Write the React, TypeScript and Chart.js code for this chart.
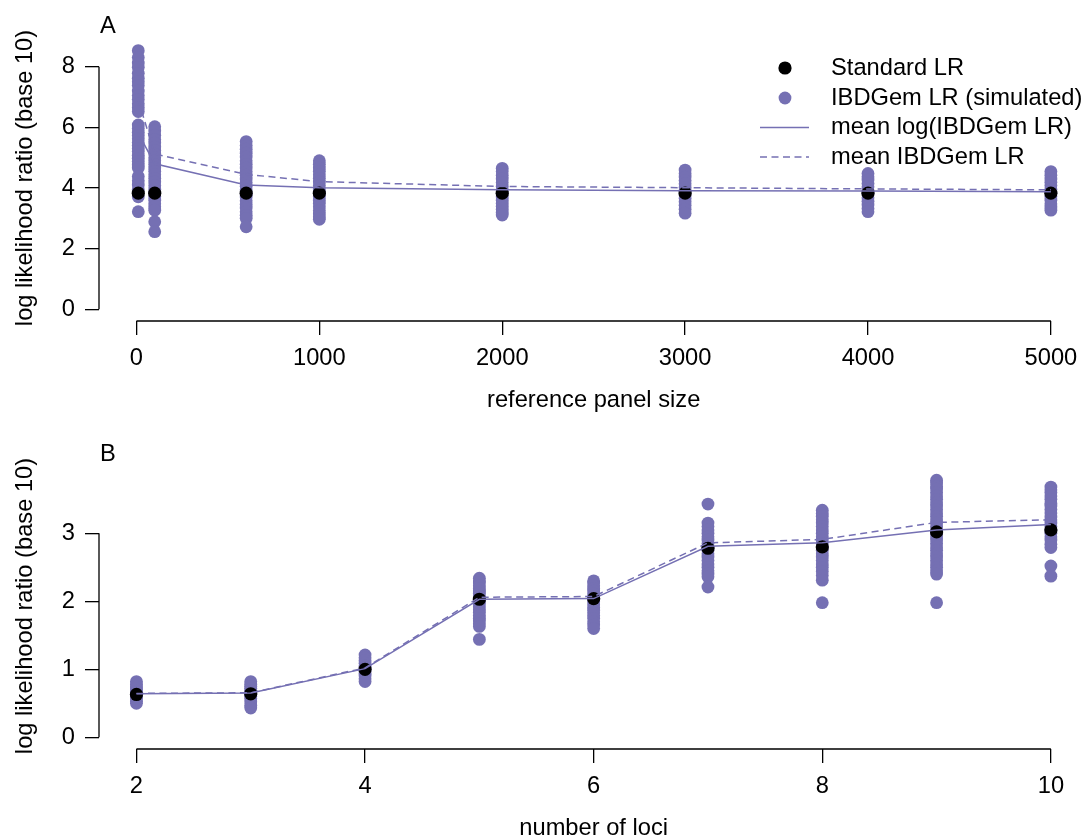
import React, { useEffect, useRef } from "react";
import { Chart, registerables } from "chart.js";

Chart.register(...registerables);

// ---------- Panel A data ----------
const panelSizes = [10, 100, 600, 1000, 2000, 3000, 4000, 5000];
const standardLR_A = [3.83, 3.83, 3.83, 3.83, 3.83, 3.83, 3.83, 3.83];
const meanLogLR_A = [5.8, 4.8, 4.1, 4.01, 3.94, 3.91, 3.9, 3.88];
const meanLR_A = [6.9, 5.12, 4.45, 4.21, 4.05, 4.01, 3.97, 3.94];

const simA_10 = [8.53, 8.3, 8.12, 7.98, 7.78, 7.62, 7.5, 7.38, 7.2, 7.05, 6.92, 6.78, 6.65, 6.52, 6.08, 5.96, 5.84, 5.73, 5.62, 5.5, 5.4, 5.3, 5.2, 5.08, 4.98, 4.87, 4.76, 4.66, 4.38, 4.24, 4.1, 3.95, 3.71, 3.22];
const simA_100 = [6.02, 5.88, 5.74, 5.6, 5.48, 5.35, 5.24, 5.12, 5.0, 4.9, 4.78, 4.66, 4.55, 4.44, 4.32, 4.2, 4.08, 3.96, 3.84, 3.72, 3.6, 3.48, 3.38, 3.27, 2.89, 2.56];
const simA_600 = [5.53, 5.4, 5.28, 5.15, 5.02, 4.9, 4.78, 4.66, 4.54, 4.42, 4.3, 4.18, 4.06, 3.94, 3.82, 3.7, 3.58, 3.46, 3.34, 3.22, 3.1, 3.0, 2.72];
const simA_1000 = [4.9, 4.78, 4.66, 4.55, 4.44, 4.32, 4.2, 4.08, 3.96, 3.84, 3.72, 3.6, 3.5, 3.38, 3.26, 3.14, 3.05, 2.97];
const simA_2000 = [4.65, 4.54, 4.42, 4.3, 4.18, 4.06, 3.94, 3.82, 3.7, 3.6, 3.5, 3.4, 3.3, 3.2, 3.11];
const simA_3000 = [4.59, 4.48, 4.36, 4.25, 4.14, 4.02, 3.9, 3.78, 3.66, 3.55, 3.43, 3.3, 3.17];
const simA_4000 = [4.48, 4.37, 4.26, 4.15, 4.04, 3.92, 3.8, 3.68, 3.56, 3.44, 3.32, 3.22];
const simA_5000 = [4.54, 4.42, 4.3, 4.19, 4.08, 3.96, 3.84, 3.72, 3.6, 3.48, 3.37, 3.27];
const simA = [simA_10, simA_100, simA_600, simA_1000, simA_2000, simA_3000, simA_4000, simA_5000];

const ticksA_x = [0, 1000, 2000, 3000, 4000, 5000];
const ticksA_y = [0, 2, 4, 6, 8];

// ---------- Panel B data ----------
const lociCounts = [2, 3, 4, 5, 6, 7, 8, 9, 10];
const standardLR_B = [0.63, 0.64, 1.0, 2.03, 2.04, 2.78, 2.8, 3.02, 3.05];
const meanLogLR_B = [0.64, 0.65, 1.01, 2.03, 2.04, 2.81, 2.86, 3.05, 3.13];
const meanLR_B = [0.645, 0.655, 1.02, 2.06, 2.07, 2.86, 2.91, 3.16, 3.2];

const simB_2 = [0.82, 0.78, 0.74, 0.71, 0.68, 0.66, 0.63, 0.6, 0.57, 0.53, 0.5];
const simB_3 = [0.82, 0.78, 0.75, 0.72, 0.69, 0.66, 0.63, 0.6, 0.57, 0.52, 0.47, 0.43];
const simB_4 = [1.21, 1.17, 1.13, 1.09, 1.05, 1.02, 0.98, 0.94, 0.9, 0.86, 0.82];
const simB_5 = [2.34, 2.3, 2.27, 2.23, 2.19, 2.15, 2.12, 2.08, 2.04, 2.0, 1.96, 1.92, 1.88, 1.84, 1.79, 1.75, 1.71, 1.67, 1.63, 1.44];
const simB_6 = [2.3, 2.27, 2.23, 2.19, 2.15, 2.11, 2.07, 2.03, 1.99, 1.95, 1.91, 1.87, 1.83, 1.79, 1.75, 1.7, 1.65, 1.6];
const simB_7 = [3.43, 3.15, 3.1, 3.05, 3.0, 2.95, 2.9, 2.85, 2.8, 2.75, 2.7, 2.65, 2.6, 2.55, 2.5, 2.45, 2.4, 2.36, 2.21];
const simB_8 = [3.34, 3.29, 3.25, 3.2, 3.15, 3.1, 3.05, 3.0, 2.95, 2.9, 2.85, 2.8, 2.75, 2.7, 2.65, 2.6, 2.55, 2.5, 2.44, 2.38, 2.31, 1.98];
const simB_9 = [3.78, 3.74, 3.69, 3.65, 3.6, 3.55, 3.5, 3.45, 3.4, 3.35, 3.3, 3.25, 3.2, 3.15, 3.1, 3.05, 3.0, 2.95, 2.9, 2.85, 2.8, 2.75, 2.7, 2.65, 2.6, 2.55, 2.5, 2.45, 2.4, 1.98];
const simB_10 = [3.68, 3.64, 3.6, 3.55, 3.5, 3.44, 3.4, 3.35, 3.3, 3.24, 3.2, 3.15, 3.1, 3.05, 3.0, 2.95, 2.9, 2.84, 2.79, 2.52, 2.37];
const simB = [simB_2, simB_3, simB_4, simB_5, simB_6, simB_7, simB_8, simB_9, simB_10];

const ticksB_x = [2, 4, 6, 8, 10];
const ticksB_y = [0, 1, 2, 3];

const legendLabels = ["Standard LR", "IBDGem LR (simulated)", "mean log(IBDGem LR)", "mean IBDGem LR"];

// ---------- styling / geometry ----------
const PURPLE = "#7570B3";
const FONT = "'Liberation Sans', Arial, Helvetica, sans-serif";
const FSIZE = 23.7;
const W = 1085;
const H = 428;
const AREA_LEFT = 99;
const AREA_TOP = 10;
const AREA_BOTTOM = 321;
const X_FIRST_PX = 136.7;
const X_LAST_PX = 1057.3;
const Y_ZERO_PX = 309.3;
const DASH = [7, 4.5];

type PanelSpec = {
  xs: number[];
  sims: number[][];
  standard: number[];
  meanLog: number[];
  meanLR: number[];
  xTicks: number[];
  yTicks: number[];
  yTopPx: number;
  xTitle: string;
  letter: string;
  legend: boolean;
};

function makeConfig(p: PanelSpec): any {
  const tx0 = p.xTicks[0];
  const tx1 = p.xTicks[p.xTicks.length - 1];
  const kx = (X_LAST_PX - X_FIRST_PX) / (tx1 - tx0);
  const xMin = tx0 - (X_FIRST_PX - AREA_LEFT) / kx;
  const xMax = tx0 + (W - X_FIRST_PX) / kx;
  const yTop = p.yTicks[p.yTicks.length - 1];
  const ky = (Y_ZERO_PX - p.yTopPx) / yTop;
  const yMin = -(AREA_BOTTOM - Y_ZERO_PX) / ky;
  const yMax = (Y_ZERO_PX - AREA_TOP) / ky;

  const simPoints: { x: number; y: number }[] = [];
  p.xs.forEach((x, i) => p.sims[i].forEach((y) => simPoints.push({ x, y })));

  const rPlugin = {
    id: "rStyle",
    afterDraw(chart: any) {
      const ctx = chart.ctx;
      const xs = chart.scales.x;
      const ys = chart.scales.y;
      ctx.save();
      // axis lines (R style: from first to last tick)
      ctx.strokeStyle = "#000";
      ctx.lineWidth = 1.3;
      ctx.beginPath();
      const ax = chart.chartArea.left;
      ctx.moveTo(ax, ys.getPixelForValue(p.yTicks[0]));
      ctx.lineTo(ax, ys.getPixelForValue(yTop));
      const ay = chart.chartArea.bottom;
      ctx.moveTo(xs.getPixelForValue(tx0), ay);
      ctx.lineTo(xs.getPixelForValue(tx1), ay);
      ctx.stroke();

      ctx.fillStyle = "#000";
      ctx.font = `${FSIZE}px ${FONT}`;
      // panel letter
      ctx.textAlign = "left";
      ctx.textBaseline = "alphabetic";
      ctx.fillText(p.letter, 100, 33);
      // x title
      ctx.textAlign = "center";
      ctx.textBaseline = "middle";
      ctx.fillText(p.xTitle, xs.getPixelForValue((tx0 + tx1) / 2), 400);
      // y title
      ctx.save();
      ctx.translate(25, 178);
      ctx.rotate(-Math.PI / 2);
      ctx.fillText("log likelihood ratio (base 10)", 0, 0);
      ctx.restore();

      if (p.legend) {
        const ds = chart.data.datasets;
        const symX = 785;
        const textX = 831;
        const rows = [68, 98, 127.5, 157];
        ctx.textAlign = "left";
        ctx.textBaseline = "middle";
        // black dot
        ctx.fillStyle = ds[1].pointBackgroundColor;
        ctx.beginPath();
        ctx.arc(symX, rows[0], ds[1].pointRadius, 0, Math.PI * 2);
        ctx.fill();
        // purple dot
        ctx.fillStyle = ds[0].pointBackgroundColor;
        ctx.beginPath();
        ctx.arc(symX, rows[1], ds[0].pointRadius, 0, Math.PI * 2);
        ctx.fill();
        // solid line
        ctx.strokeStyle = ds[2].borderColor;
        ctx.lineWidth = ds[2].borderWidth;
        ctx.beginPath();
        ctx.moveTo(760, rows[2]);
        ctx.lineTo(809, rows[2]);
        ctx.stroke();
        // dashed line
        ctx.setLineDash(DASH);
        ctx.beginPath();
        ctx.moveTo(760, rows[3]);
        ctx.lineTo(809, rows[3]);
        ctx.stroke();
        ctx.setLineDash([]);
        ctx.fillStyle = "#000";
        const order = [1, 0, 2, 3];
        order.forEach((di, r) => ctx.fillText(ds[di].label, textX, rows[r]));
      }
      ctx.restore();
    },
  };

  const tickFont = { family: FONT, size: FSIZE };

  return {
    type: "scatter",
    data: {
      datasets: [
        {
          label: legendLabels[1],
          data: simPoints,
          pointRadius: 6.4,
          pointBackgroundColor: PURPLE,
          pointBorderWidth: 0,
          borderColor: PURPLE,
          order: 3,
        },
        {
          label: legendLabels[0],
          data: p.xs.map((x, i) => ({ x, y: p.standard[i] })),
          pointRadius: 6.6,
          pointBackgroundColor: "#000",
          pointBorderWidth: 0,
          borderColor: "#000",
          order: 2,
        },
        {
          label: legendLabels[2],
          data: p.xs.map((x, i) => ({ x, y: p.meanLog[i] })),
          showLine: true,
          pointRadius: 0,
          borderColor: PURPLE,
          borderWidth: 1.5,
          tension: 0,
          order: 1,
        },
        {
          label: legendLabels[3],
          data: p.xs.map((x, i) => ({ x, y: p.meanLR[i] })),
          showLine: true,
          pointRadius: 0,
          borderColor: PURPLE,
          borderWidth: 1.5,
          borderDash: DASH,
          tension: 0,
          order: 0,
        },
      ],
    },
    options: {
      responsive: false,
      animation: false,
      devicePixelRatio: 1,
      layout: { padding: { left: 0, right: 0, top: AREA_TOP, bottom: 0 } },
      plugins: { legend: { display: false }, tooltip: { enabled: false } },
      scales: {
        x: {
          type: "linear",
          min: xMin,
          max: xMax,
          afterBuildTicks: (s: any) => {
            s.ticks = p.xTicks.map((v) => ({ value: v }));
          },
          afterFit: (s: any) => {
            s.height = H - AREA_BOTTOM;
            s.paddingLeft = 0;
            s.paddingRight = 0;
          },
          grid: { display: true, drawOnChartArea: false, drawTicks: true, tickLength: 14, tickColor: "#000", tickWidth: 1.3, color: "#000", lineWidth: 1.3 },
          border: { display: false },
          ticks: { color: "#000", font: tickFont, padding: 9.5, maxRotation: 0, autoSkip: false, callback: (v: any) => String(v) },
        },
        y: {
          type: "linear",
          min: yMin,
          max: yMax,
          afterBuildTicks: (s: any) => {
            s.ticks = p.yTicks.map((v) => ({ value: v }));
          },
          afterFit: (s: any) => {
            s.width = AREA_LEFT;
            s.paddingTop = 0;
            s.paddingBottom = 0;
          },
          grid: { display: true, drawOnChartArea: false, drawTicks: true, tickLength: 14, tickColor: "#000", tickWidth: 1.3, color: "#000", lineWidth: 1.3 },
          border: { display: false },
          ticks: { color: "#000", font: tickFont, padding: 10, autoSkip: false, callback: (v: any) => String(v) },
        },
      },
    },
    plugins: [rPlugin],
  };
}

export default function App() {
  const refA = useRef<HTMLCanvasElement | null>(null);
  const refB = useRef<HTMLCanvasElement | null>(null);

  useEffect(() => {
    const chartA = new Chart(
      refA.current as HTMLCanvasElement,
      makeConfig({
        xs: panelSizes,
        sims: simA,
        standard: standardLR_A,
        meanLog: meanLogLR_A,
        meanLR: meanLR_A,
        xTicks: ticksA_x,
        yTicks: ticksA_y,
        yTopPx: 66.7,
        xTitle: "reference panel size",
        letter: "A",
        legend: true,
      })
    );
    const chartB = new Chart(
      refB.current as HTMLCanvasElement,
      makeConfig({
        xs: lociCounts,
        sims: simB,
        standard: standardLR_B,
        meanLog: meanLogLR_B,
        meanLR: meanLR_B,
        xTicks: ticksB_x,
        yTicks: ticksB_y,
        yTopPx: 105.3,
        xTitle: "number of loci",
        letter: "B",
        legend: false,
      })
    );
    return () => {
      chartA.destroy();
      chartB.destroy();
    };
  }, []);

  return (
    <div style={{ position: "fixed", left: 0, top: 0, width: W, height: 836, overflow: "hidden", background: "#fff" }}>
      <canvas ref={refA} width={W} height={H} style={{ position: "absolute", left: 0, top: 0, display: "block" }} />
      <canvas ref={refB} width={W} height={H} style={{ position: "absolute", left: 0, top: 428, display: "block" }} />
    </div>
  );
}
